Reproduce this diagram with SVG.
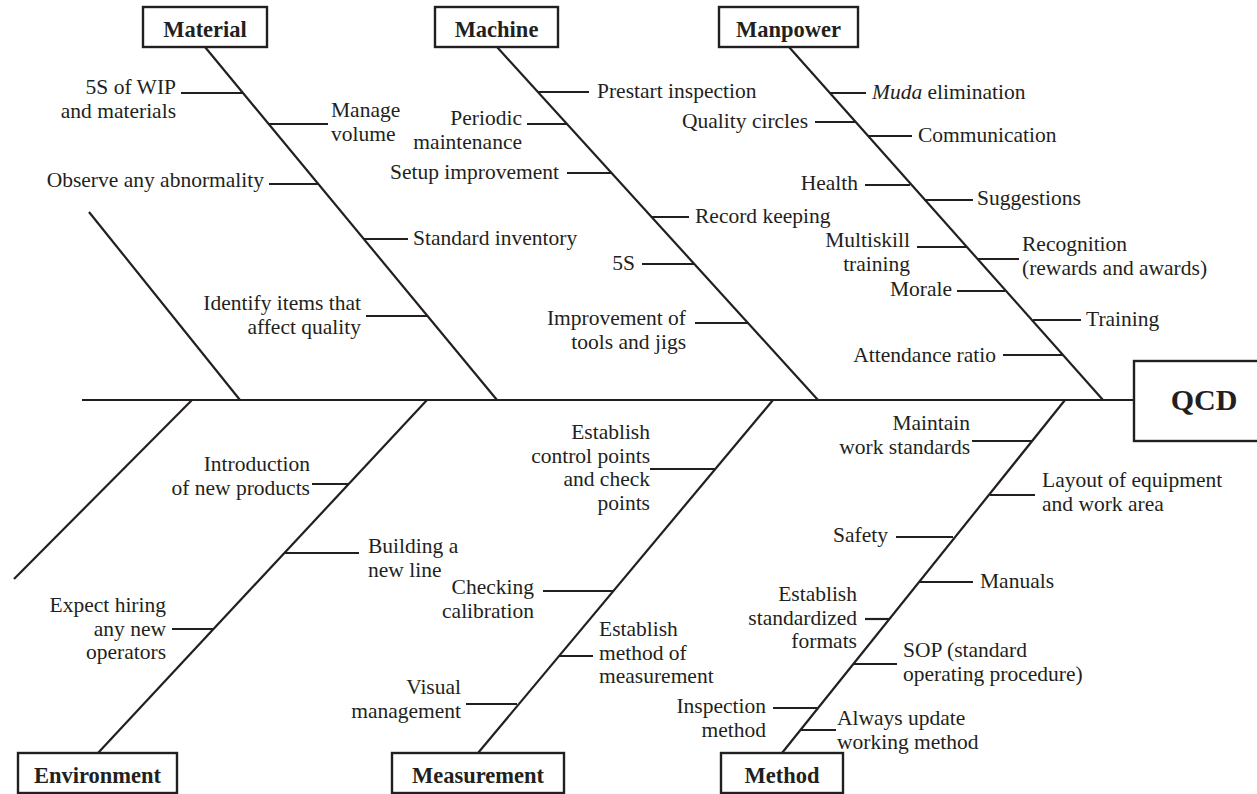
<svg xmlns="http://www.w3.org/2000/svg" width="1257" height="794" viewBox="0 0 1257 794">
  <style>
    .bone { stroke: #231f20; stroke-width: 2.2; fill: none; stroke-linecap: butt; }
    .tick { stroke: #231f20; stroke-width: 2.2; fill: none; }
    .box { fill: #ffffff; stroke: #231f20; stroke-width: 2.4; }
    .lbl { font-family: "Liberation Serif", "Times New Roman", serif; font-size: 21.5px; fill: #231f20; }
    .l { text-anchor: end; }
    .r { text-anchor: start; }
    .head { font-family: "Liberation Serif", "Times New Roman", serif; font-size: 22.5px; font-weight: bold; fill: #231f20; text-anchor: middle; }
    .qcd { font-family: "Liberation Serif", "Times New Roman", serif; font-size: 30px; font-weight: bold; fill: #231f20; text-anchor: middle; }
  </style>
  <rect width="1257" height="794" fill="#ffffff"/>

  <!-- spine and main bones -->
  <g id="connectors">
    <line class="bone" x1="82" y1="400" x2="1134" y2="400"/>
    <line class="bone" x1="89" y1="212" x2="240" y2="400"/>
    <line class="bone" x1="192" y1="400" x2="14" y2="579"/>
    <line class="bone" x1="205" y1="47" x2="497" y2="400"/>
    <line class="bone" x1="497" y1="47" x2="818" y2="400"/>
    <line class="bone" x1="789" y1="47" x2="1103" y2="400"/>
    <line class="bone" x1="427" y1="400" x2="98" y2="753"/>
    <line class="bone" x1="773" y1="400" x2="478" y2="753"/>
    <line class="bone" x1="1065" y1="400" x2="782" y2="753"/>
  </g>

  <!-- Material -->
  <g id="material">
    <rect class="box" x="143" y="7" width="124" height="40"/>
    <text class="head" x="205" y="37">Material</text>
    <line class="tick" x1="181" y1="93" x2="243" y2="93"/>
    <text class="lbl l" x="176" y="94">5S of WIP<tspan x="176" dy="23.5">and materials</tspan></text>
    <line class="tick" x1="269" y1="124" x2="328" y2="124"/>
    <text class="lbl r" x="331" y="117">Manage<tspan x="331" dy="23.5">volume</tspan></text>
    <line class="tick" x1="269" y1="184" x2="318" y2="184"/>
    <text class="lbl l" x="264" y="187">Observe any abnormality</text>
    <line class="tick" x1="364" y1="239" x2="408" y2="239"/>
    <text class="lbl r" x="413" y="245">Standard inventory</text>
    <line class="tick" x1="366" y1="316" x2="427" y2="316"/>
    <text class="lbl l" x="361" y="310">Identify items that<tspan x="361" dy="23.5">affect quality</tspan></text>
  </g>

  <!-- Machine -->
  <g id="machine">
    <rect class="box" x="435" y="7" width="123" height="40"/>
    <text class="head" x="496.5" y="37">Machine</text>
    <line class="tick" x1="538" y1="92" x2="589" y2="92"/>
    <text class="lbl r" x="597" y="98">Prestart inspection</text>
    <line class="tick" x1="527" y1="124" x2="567" y2="124"/>
    <text class="lbl l" x="522" y="125">Periodic<tspan x="522" dy="23.5">maintenance</tspan></text>
    <line class="tick" x1="567" y1="173" x2="612" y2="173"/>
    <text class="lbl l" x="559" y="179">Setup improvement</text>
    <line class="tick" x1="652" y1="217" x2="689" y2="217"/>
    <text class="lbl r" x="695" y="223">Record keeping</text>
    <line class="tick" x1="642" y1="264" x2="694" y2="264"/>
    <text class="lbl l" x="635" y="270">5S</text>
    <line class="tick" x1="695" y1="323" x2="748" y2="323"/>
    <text class="lbl l" x="686" y="325">Improvement of<tspan x="686" dy="23.5">tools and jigs</tspan></text>
  </g>

  <!-- Manpower -->
  <g id="manpower">
    <rect class="box" x="719" y="7" width="139" height="40"/>
    <text class="head" x="788.5" y="37">Manpower</text>
    <line class="tick" x1="830" y1="93" x2="866" y2="93"/>
    <text class="lbl r" x="872" y="99"><tspan font-style="italic">Muda</tspan> elimination</text>
    <line class="tick" x1="815" y1="122" x2="856" y2="122"/>
    <text class="lbl l" x="808" y="128">Quality circles</text>
    <line class="tick" x1="868" y1="136" x2="912" y2="136"/>
    <text class="lbl r" x="918" y="142">Communication</text>
    <line class="tick" x1="865" y1="185" x2="910" y2="185"/>
    <text class="lbl l" x="858" y="190">Health</text>
    <line class="tick" x1="924" y1="200" x2="973" y2="200"/>
    <text class="lbl r" x="977" y="205">Suggestions</text>
    <line class="tick" x1="917" y1="247" x2="967" y2="247"/>
    <text class="lbl l" x="910" y="247">Multiskill<tspan x="910" dy="23.5">training</tspan></text>
    <line class="tick" x1="978" y1="259" x2="1019" y2="259"/>
    <text class="lbl r" x="1022" y="251">Recognition<tspan x="1022" dy="23.5">(rewards and awards)</tspan></text>
    <line class="tick" x1="957" y1="291" x2="1005" y2="291"/>
    <text class="lbl l" x="952" y="296">Morale</text>
    <line class="tick" x1="1033" y1="320" x2="1081" y2="320"/>
    <text class="lbl r" x="1086" y="326">Training</text>
    <line class="tick" x1="1003" y1="355" x2="1063" y2="355"/>
    <text class="lbl l" x="996" y="362">Attendance ratio</text>
  </g>

  <!-- Environment -->
  <g id="environment">
    <rect class="box" x="18" y="753" width="159" height="40"/>
    <text class="head" x="97.5" y="783">Environment</text>
    <line class="tick" x1="312" y1="484" x2="349" y2="484"/>
    <text class="lbl l" x="310" y="471">Introduction<tspan x="310" dy="23.5">of new products</tspan></text>
    <line class="tick" x1="285" y1="553" x2="359" y2="553"/>
    <text class="lbl r" x="368" y="553">Building a<tspan x="368" dy="23.5">new line</tspan></text>
    <line class="tick" x1="172" y1="629" x2="214" y2="629"/>
    <text class="lbl l" x="166" y="612">Expect hiring<tspan x="166" dy="23.5">any new</tspan><tspan x="166" dy="23.5">operators</tspan></text>
  </g>

  <!-- Measurement -->
  <g id="measurement">
    <rect class="box" x="392" y="753" width="172" height="40"/>
    <text class="head" x="478" y="783">Measurement</text>
    <line class="tick" x1="650" y1="469" x2="715" y2="469"/>
    <text class="lbl l" x="650" y="439">Establish<tspan x="650" dy="23.7">control points</tspan><tspan x="650" dy="23.7">and check</tspan><tspan x="650" dy="23.7">points</tspan></text>
    <line class="tick" x1="543" y1="591" x2="613" y2="591"/>
    <text class="lbl l" x="534" y="594">Checking<tspan x="534" dy="23.5">calibration</tspan></text>
    <line class="tick" x1="559" y1="656" x2="593" y2="656"/>
    <text class="lbl r" x="599" y="636">Establish<tspan x="599" dy="23.5">method of</tspan><tspan x="599" dy="23.5">measurement</tspan></text>
    <line class="tick" x1="466" y1="704" x2="517" y2="704"/>
    <text class="lbl l" x="461" y="694">Visual<tspan x="461" dy="23.5">management</tspan></text>
  </g>

  <!-- Method -->
  <g id="method">
    <rect class="box" x="721" y="753" width="122" height="40"/>
    <text class="head" x="782" y="783">Method</text>
    <line class="tick" x1="972" y1="441" x2="1032" y2="441"/>
    <text class="lbl l" x="970" y="430">Maintain<tspan x="970" dy="23.5">work standards</tspan></text>
    <line class="tick" x1="990" y1="495" x2="1035" y2="495"/>
    <text class="lbl r" x="1042" y="487">Layout of equipment<tspan x="1042" dy="23.5">and work area</tspan></text>
    <line class="tick" x1="896" y1="537" x2="953" y2="537"/>
    <text class="lbl l" x="888" y="542">Safety</text>
    <line class="tick" x1="919" y1="582" x2="973" y2="582"/>
    <text class="lbl r" x="980" y="588">Manuals</text>
    <line class="tick" x1="865" y1="619" x2="889" y2="619"/>
    <text class="lbl l" x="857" y="601">Establish<tspan x="857" dy="23.5">standardized</tspan><tspan x="857" dy="23.5">formats</tspan></text>
    <line class="tick" x1="853" y1="664" x2="897" y2="664"/>
    <text class="lbl r" x="903" y="657">SOP (standard<tspan x="903" dy="23.5">operating procedure)</tspan></text>
    <line class="tick" x1="773" y1="708" x2="817" y2="708"/>
    <text class="lbl l" x="766" y="713">Inspection<tspan x="766" dy="23.5">method</tspan></text>
    <line class="tick" x1="800" y1="730" x2="836" y2="730"/>
    <text class="lbl r" x="837" y="725">Always update<tspan x="837" dy="23.5">working method</tspan></text>
  </g>

  <!-- Effect -->
  <g id="qcd">
    <rect class="box" x="1134" y="361" width="130" height="80"/>
    <text class="qcd" x="1204" y="410">QCD</text>
  </g>
</svg>
